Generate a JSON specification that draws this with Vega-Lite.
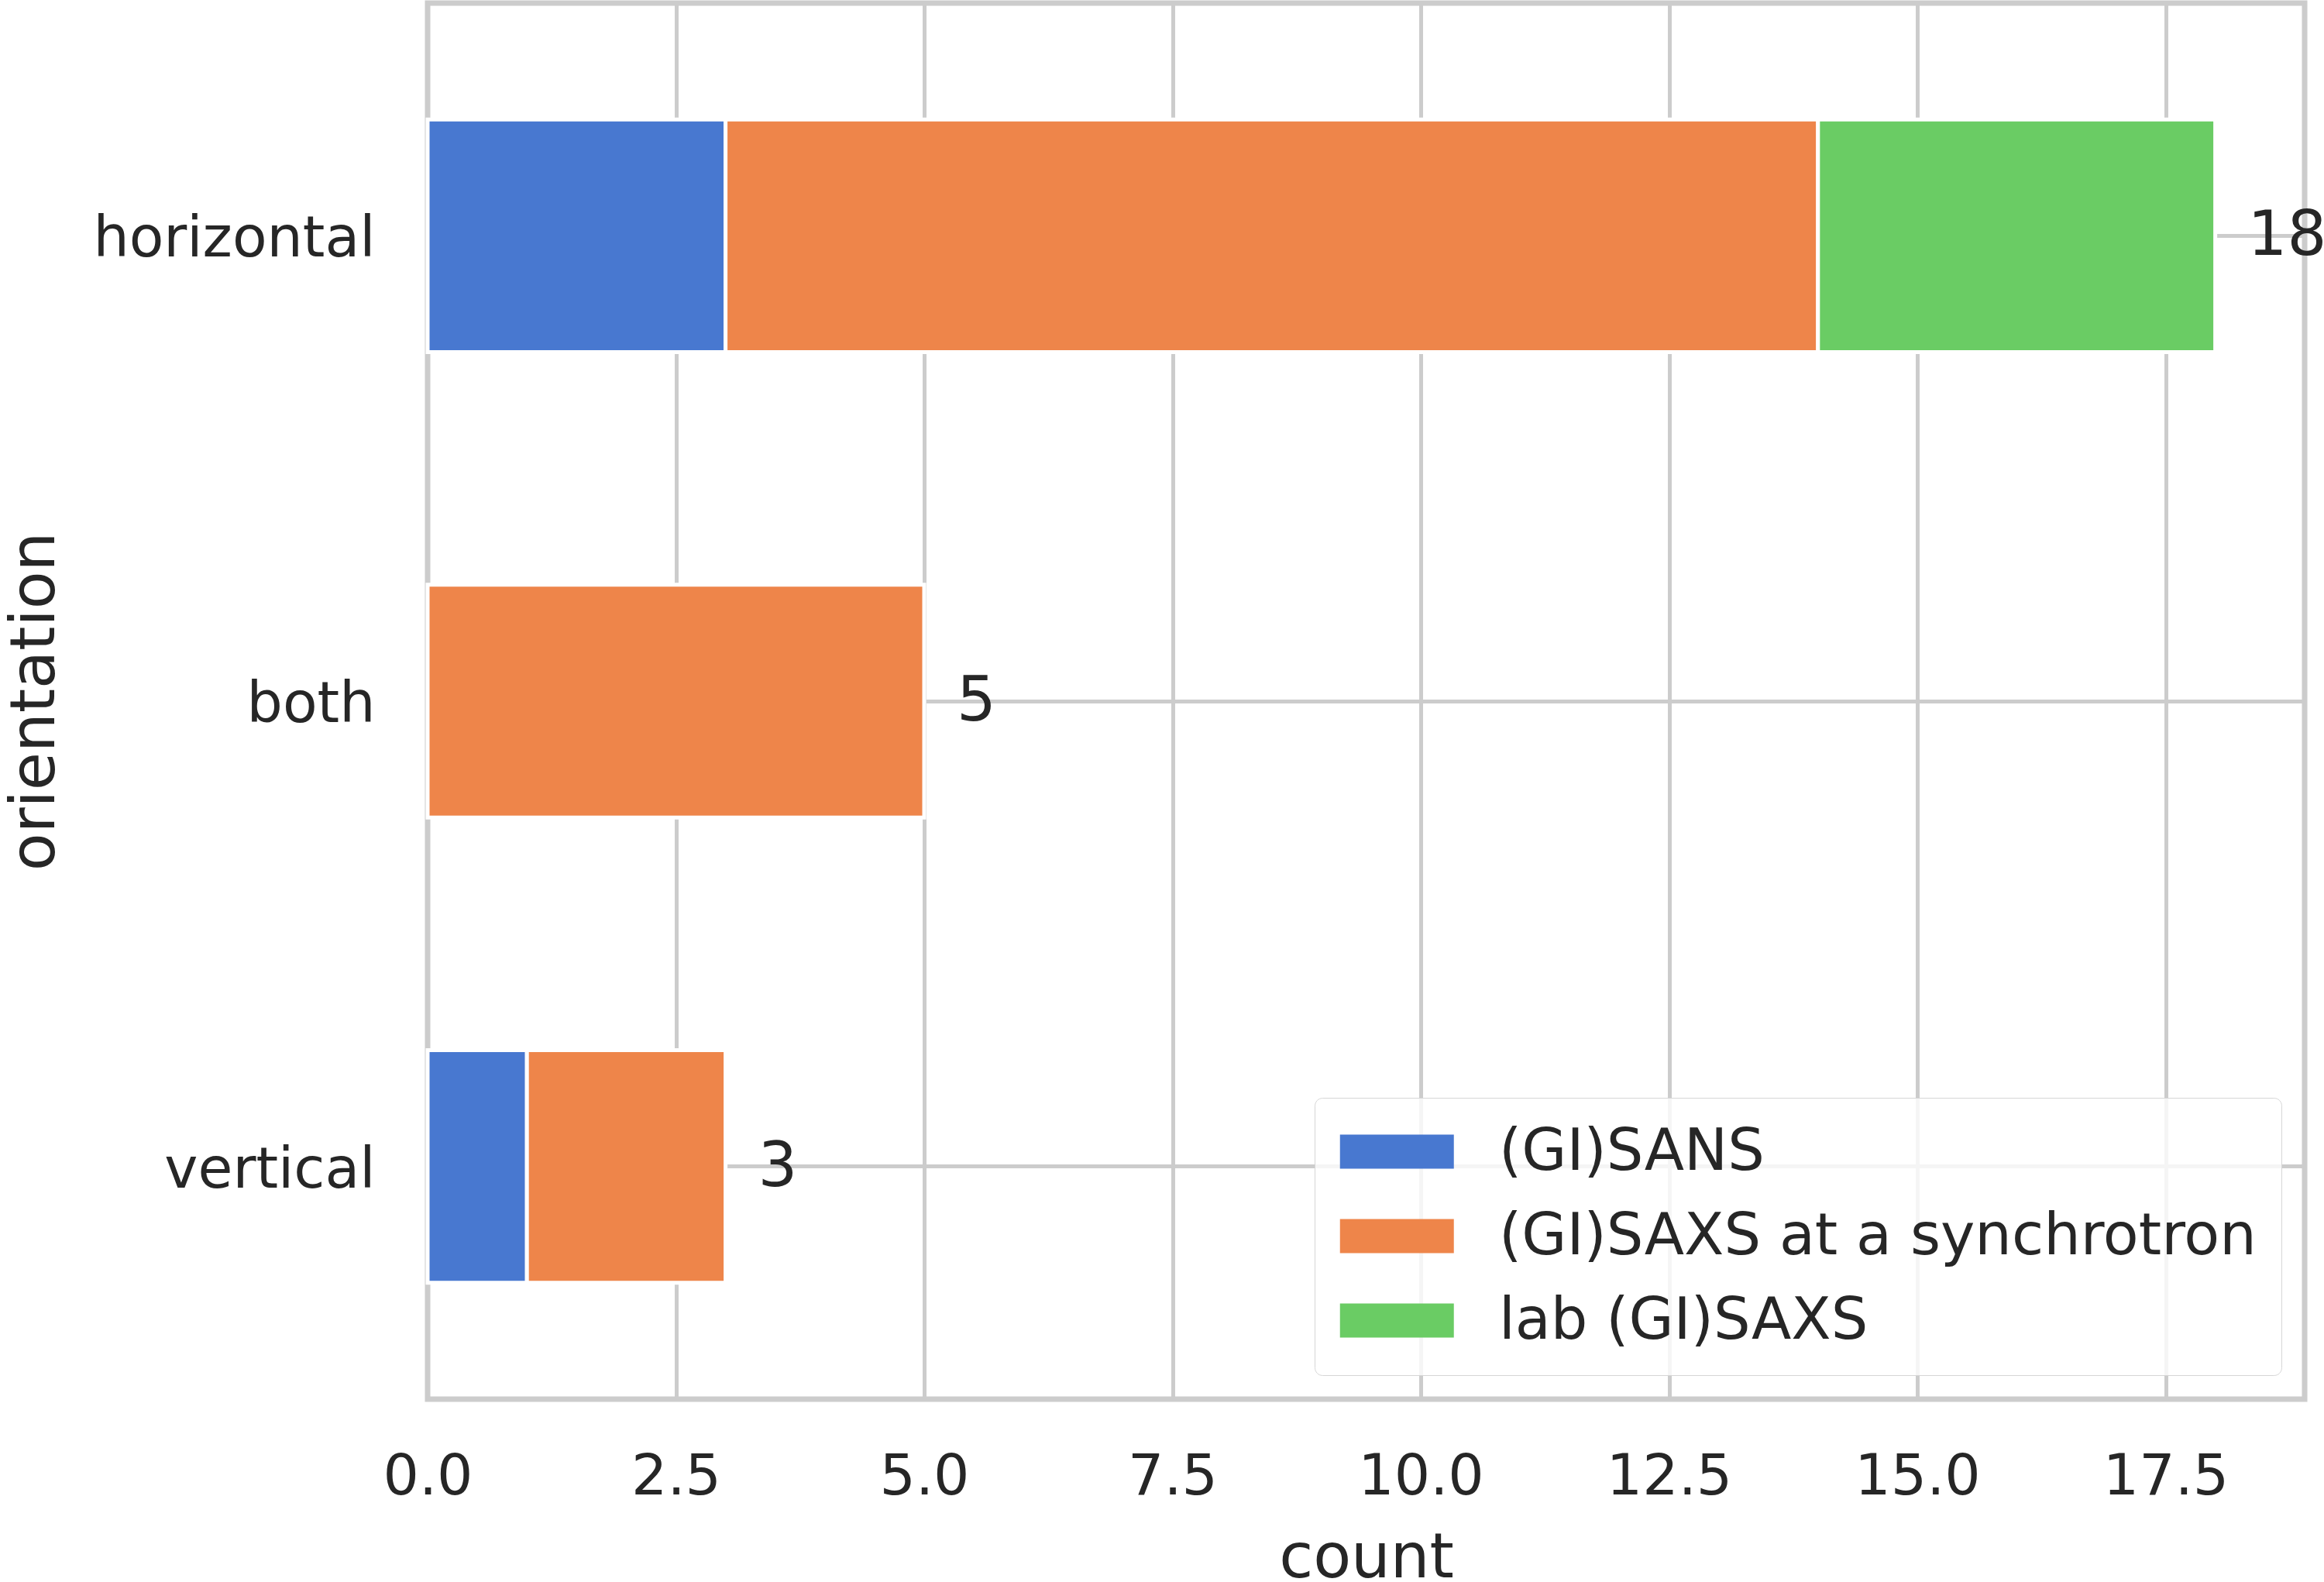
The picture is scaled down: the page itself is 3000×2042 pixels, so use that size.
{
  "$schema": "https://vega.github.io/schema/vega-lite/v6.json",
  "autosize": "none",
  "width": 2423,
  "height": 1802,
  "padding": {"left": 552, "top": 4, "right": 25, "bottom": 236},
  "background": "white",
  "data": {
    "values": [
      {"orientation": "horizontal", "source": "(GI)SANS", "count": 3},
      {"orientation": "horizontal", "source": "(GI)SAXS at a synchrotron", "count": 11},
      {"orientation": "horizontal", "source": "lab (GI)SAXS", "count": 4},
      {"orientation": "both", "source": "(GI)SAXS at a synchrotron", "count": 5},
      {"orientation": "vertical", "source": "(GI)SANS", "count": 1},
      {"orientation": "vertical", "source": "(GI)SAXS at a synchrotron", "count": 2}
    ]
  },
  "encoding": {
    "y": {
      "field": "orientation",
      "type": "nominal",
      "sort": ["horizontal", "both", "vertical"],
      "scale": {"paddingInner": 0.5, "paddingOuter": 0.25},
      "axis": {
        "title": "orientation",
        "grid": true,
        "ticks": false,
        "domain": false,
        "labelFontSize": 73,
        "labelPadding": 68,
        "labelLimit": 0,
        "labelOffset": 5,
        "titleFontSize": 80,
        "titleFontWeight": "normal",
        "titleX": -483,
        "titleBaseline": "alphabetic"
      }
    }
  },
  "layer": [
    {
      "mark": {"type": "bar", "stroke": "white", "strokeWidth": 5},
      "encoding": {
        "x": {
          "field": "count",
          "type": "quantitative",
          "stack": "zero",
          "scale": {"domain": [0, 18.9], "nice": false},
          "axis": {
            "title": "count",
            "values": [0, 2.5, 5, 7.5, 10, 12.5, 15, 17.5],
            "format": ".1f",
            "ticks": false,
            "domain": false,
            "labelFlush": false,
            "labelFontSize": 73,
            "labelPadding": 64,
            "titleFontSize": 80,
            "titleFontWeight": "normal",
            "titleY": 229,
            "titleBaseline": "alphabetic"
          }
        },
        "color": {
          "field": "source",
          "type": "nominal",
          "scale": {
            "domain": ["(GI)SANS", "(GI)SAXS at a synchrotron", "lab (GI)SAXS"],
            "range": ["#4878d0", "#ee854a", "#6acc64"]
          },
          "legend": {
            "title": null,
            "orient": "none",
            "legendX": 1145,
            "legendY": 1413,
            "padding": 32,
            "labelFontSize": 75,
            "labelOffset": 131,
            "labelLimit": 0,
            "labelColor": "#262626",
            "symbolType": "M-1,-0.6H3V0.6H-1Z",
            "symbolSize": 5402,
            "symbolStrokeWidth": 0,
            "rowPadding": 33,
            "fillColor": "rgba(255,255,255,0.8)",
            "strokeColor": "#d6d6d6",
            "cornerRadius": 10,
            "encode": {"legend": {"update": {"strokeWidth": {"value": 4}}}}
          }
        },
        "order": {"field": "source", "sort": "ascending"}
      }
    },
    {
      "transform": [
        {"aggregate": [{"op": "sum", "field": "count", "as": "total"}], "groupby": ["orientation"]}
      ],
      "mark": {"type": "text", "align": "left", "baseline": "middle", "dx": 42, "dy": 1, "fontSize": 80, "color": "#262626"},
      "encoding": {
        "x": {"field": "total", "type": "quantitative"},
        "text": {"field": "total", "type": "quantitative"}
      }
    }
  ],
  "config": {
    "font": "DejaVu Sans",
    "view": {"stroke": "#cccccc", "strokeWidth": 7},
    "axis": {
      "gridColor": "#cccccc",
      "gridWidth": 5,
      "gridOpacity": 1,
      "labelColor": "#262626",
      "titleColor": "#262626",
      "labelFont": "DejaVu Sans",
      "titleFont": "DejaVu Sans"
    },
    "legend": {"labelFont": "DejaVu Sans"}
  }
}
